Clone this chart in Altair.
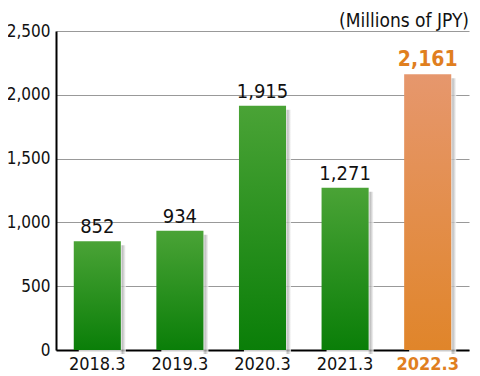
import altair as alt
import pandas as pd

years = ["2018.3", "2019.3", "2020.3", "2021.3", "2022.3"]
values = [852, 934, 1915, 1271, 2161]
highlight = [False, False, False, False, True]

df = pd.DataFrame({"year": years, "value": values, "hl": highlight})

FONT = "DejaVu Sans Condensed"
ORANGE = "#e07f1f"

green_grad = alt.Gradient(gradient="linear", x1=0, x2=0, y1=0, y2=1,
                          stops=[alt.GradientStop(color="#4aa336", offset=0),
                                 alt.GradientStop(color="#0a7e08", offset=1)])
orange_grad = alt.Gradient(gradient="linear", x1=0, x2=0, y1=0, y2=1,
                           stops=[alt.GradientStop(color="#e6976d", offset=0),
                                  alt.GradientStop(color="#e0852a", offset=1)])
shadow_grad = alt.Gradient(gradient="linear", x1=0, x2=1, y1=0, y2=0,
                           stops=[alt.GradientStop(color="#ffffff", offset=0),
                                  alt.GradientStop(color="#ffffff", offset=0.88),
                                  alt.GradientStop(color="#b0b0b0", offset=0.93),
                                  alt.GradientStop(color="#ffffff", offset=1)])

x = alt.X("year:N", sort=years, title=None,
          scale=alt.Scale(paddingInner=0.43, paddingOuter=0.215),
          axis=alt.Axis(labelAngle=0, ticks=False, domain=True, domainColor="#000",
                        domainWidth=2, labelFont=FONT, labelFontSize=18,
                        labelPadding=5,
                        labelColor=alt.expr(f"datum.value == '2022.3' ? '{ORANGE}' : '#111'"),
                        labelFontWeight=alt.expr("datum.value == '2022.3' ? 'bold' : 'normal'")))
y = alt.Y("value:Q", title=None,
          scale=alt.Scale(domain=[0, 2500]),
          axis=alt.Axis(values=[0, 500, 1000, 1500, 2000, 2500], format=",.0f",
                        ticks=False, domain=True, domainColor="#000", domainWidth=2,
                        gridColor="#999", gridWidth=1.2, labelFont=FONT,
                        labelFontSize=17, labelColor="#111", labelPadding=6))

base = alt.Chart(df)

shadow = base.mark_bar(fill=shadow_grad, opacity=0.8).encode(
    x=x, y=y, xOffset=alt.value(5), yOffset=alt.value(4))

green = base.transform_filter("!datum.hl").mark_bar(fill=green_grad).encode(x=x, y=y)
orange = base.transform_filter("datum.hl").mark_bar(fill=orange_grad).encode(x=x, y=y)

text_norm = base.transform_filter("!datum.hl").mark_text(
    baseline="bottom", dy=-4, font=FONT, fontSize=20, color="#111").encode(
    x=x, y=y, text=alt.Text("value:Q", format=",.0f"))
text_hl = base.transform_filter("datum.hl").mark_text(
    baseline="bottom", dy=-4, font=FONT, fontSize=21, fontWeight="bold", color=ORANGE).encode(
    x=x, y=y, text=alt.Text("value:Q", format=",.0f"))

unit = alt.Chart(pd.DataFrame({"t": ["(Millions of JPY)"]})).mark_text(
    align="right", baseline="alphabetic", font=FONT, fontSize=19, color="#111").encode(
    x=alt.value(413), y=alt.value(-4), text="t:N")

chart = alt.layer(shadow, green, orange, text_norm, text_hl, unit).properties(
    width=413, height=319,
    autosize=alt.AutoSizeParams(type="none"),
    padding={"left": 48, "top": 23, "right": 3, "bottom": 25},
).configure_view(stroke=None).configure_axis(zindex=1)

chart.save("out.html", embed_options={"renderer": "svg", "actions": False})
